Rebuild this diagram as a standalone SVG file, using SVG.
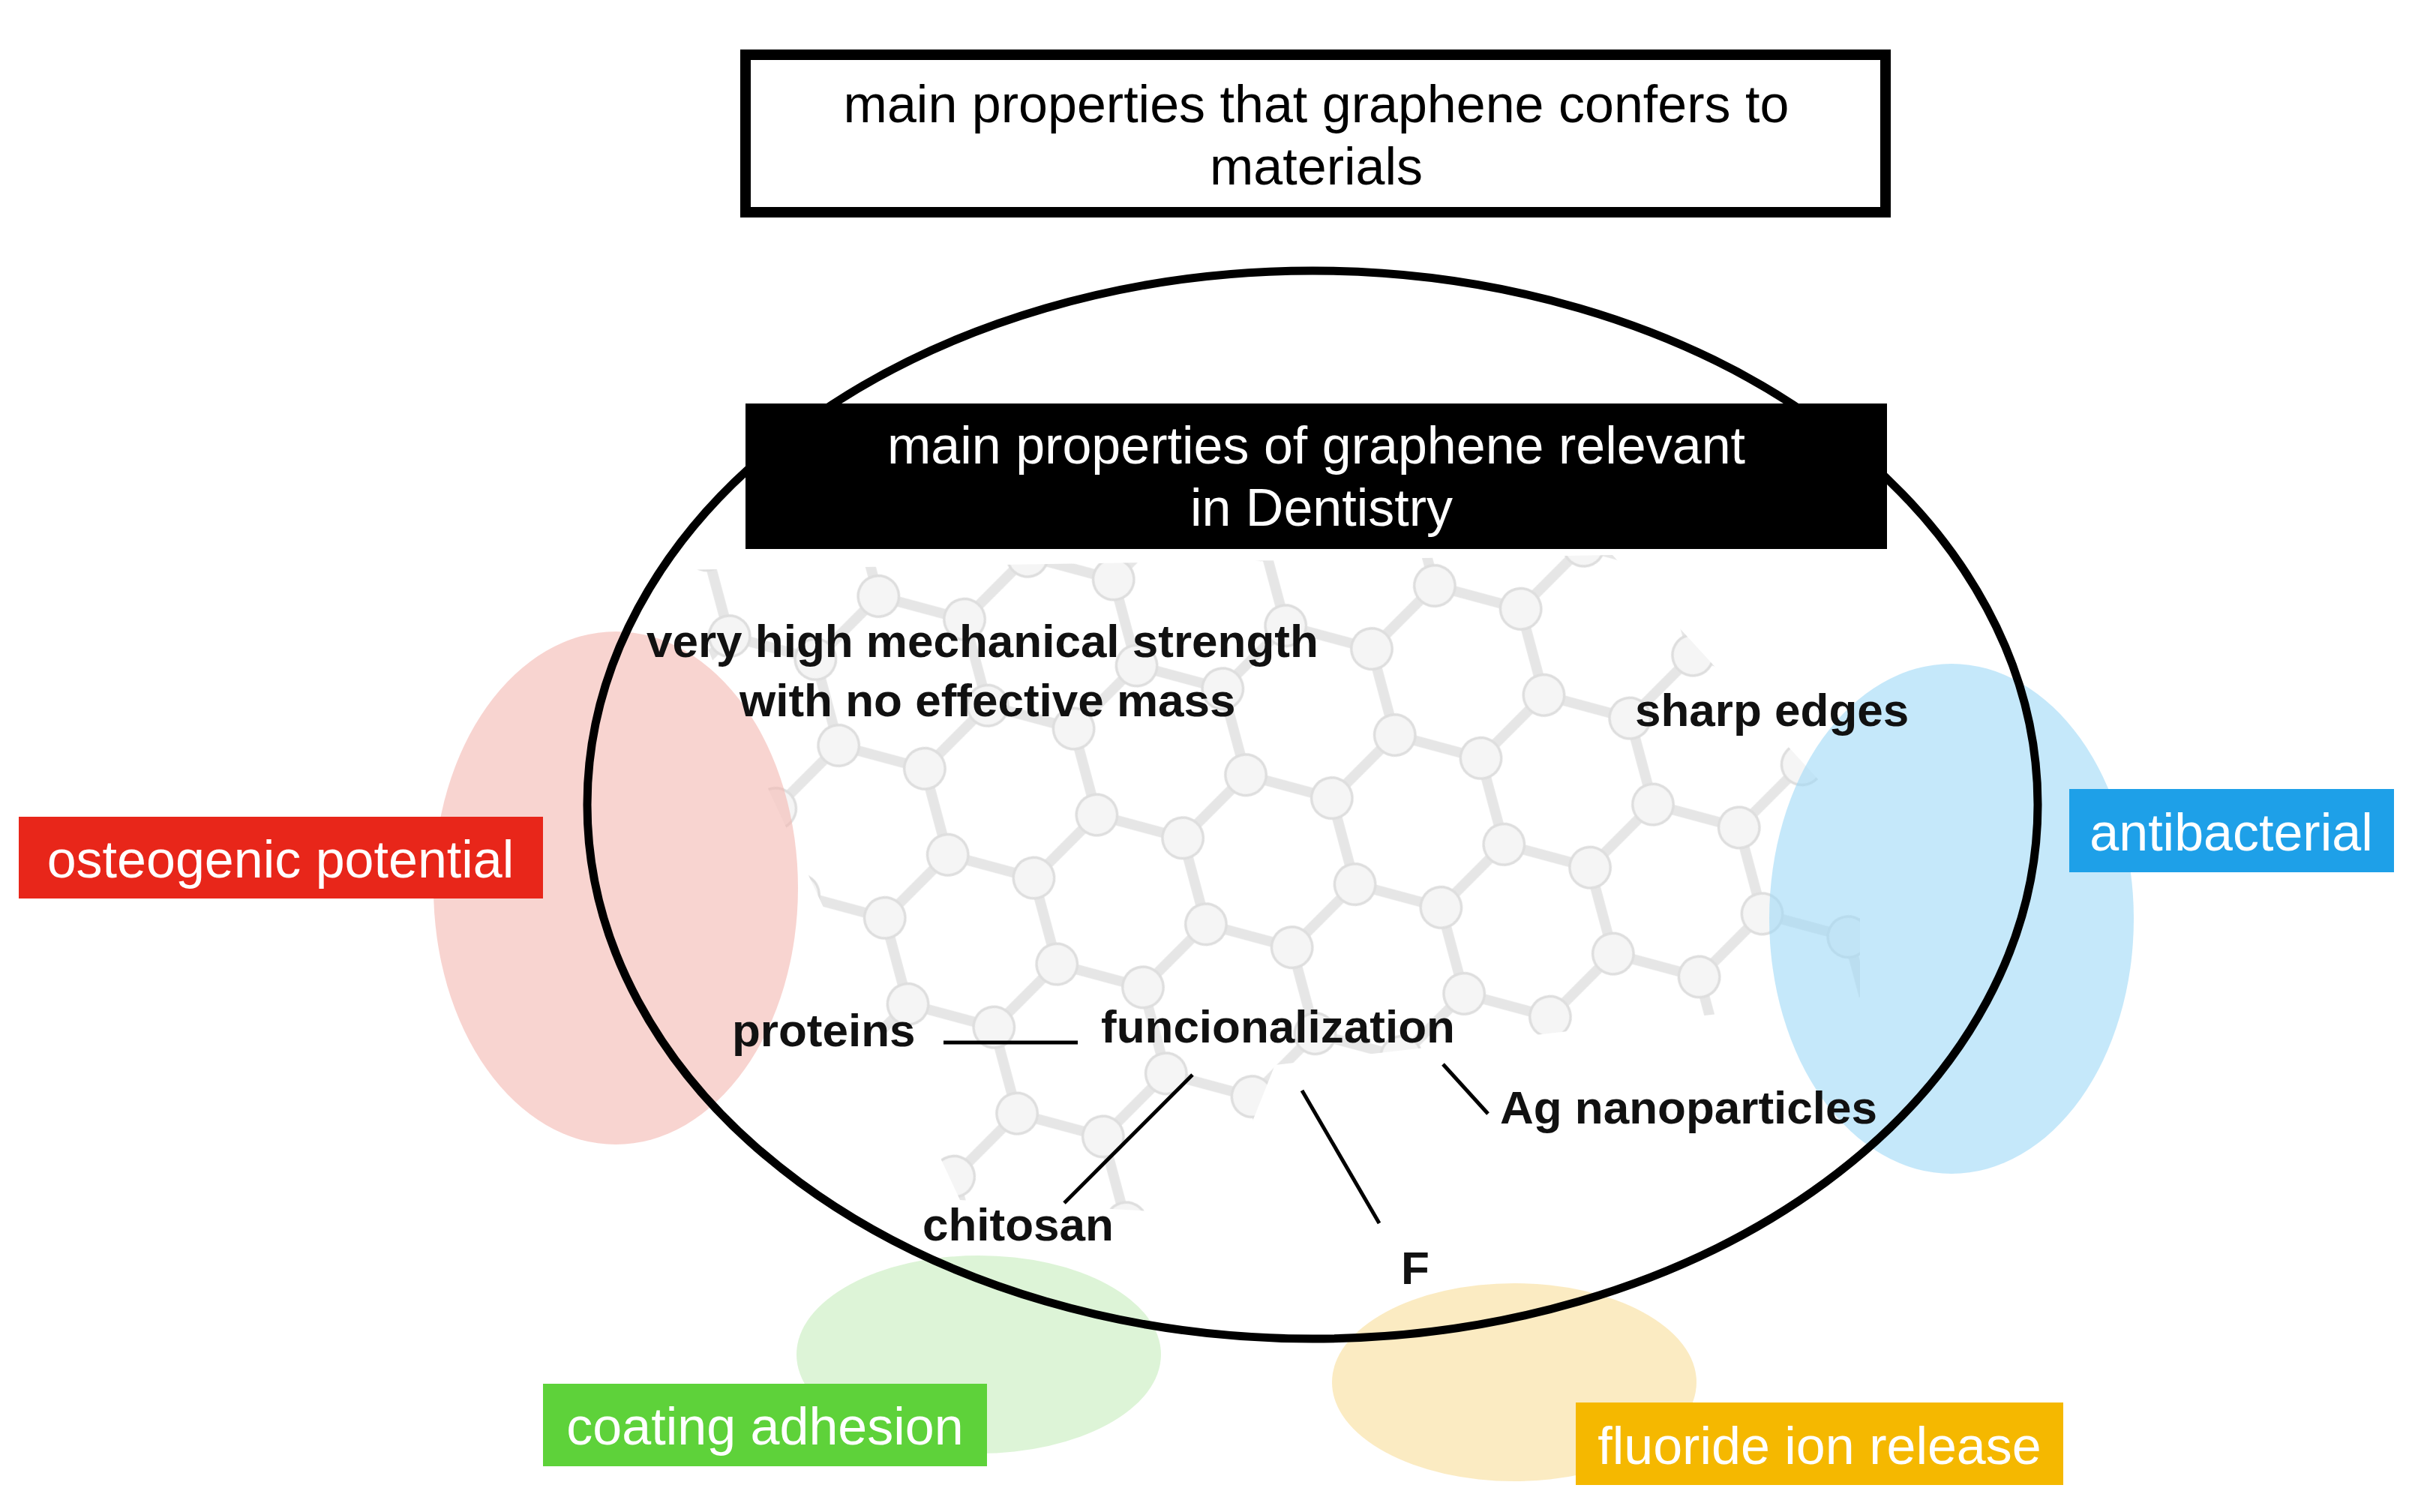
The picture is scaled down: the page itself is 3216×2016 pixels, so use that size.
<svg xmlns="http://www.w3.org/2000/svg" width="3216" height="2016" viewBox="0 0 3216 2016">
<style>
.t{font-family:"Liberation Sans",Arial,sans-serif;font-size:70px;text-anchor:middle}
.b{font-family:"Liberation Sans",Arial,sans-serif;font-size:62px;font-weight:bold;fill:#111}
.w{fill:#fff}
.ln{stroke:#000;stroke-width:5;fill:none}
</style>
<defs>
<pattern id="hex" width="121" height="210" patternUnits="userSpaceOnUse" patternTransform="rotate(-15) scale(1.7)">
<path d="M0 35L60.5 0L121 35M0 35V105L60.5 140L121 105V35M60.5 140V210" stroke="#e6e6e6" stroke-width="8" fill="none"/>
<g fill="#f5f5f5" stroke="#dedede" stroke-width="2">
<circle cx="60.5" cy="0" r="16"/><circle cx="121" cy="35" r="16"/><circle cx="0" cy="35" r="16"/>
<circle cx="121" cy="105" r="16"/><circle cx="0" cy="105" r="16"/><circle cx="60.5" cy="140" r="16"/><circle cx="60.5" cy="210" r="16"/>
</g>
</pattern>
<clipPath id="lc"><path d="M900 760 L2150 740 L2480 1100 L2480 1330 L1700 1420 L1620 1620 L1280 1600 L1000 1000Z"/></clipPath>
</defs>
<rect width="3216" height="2016" fill="#fff"/>
<g id="lattice" clip-path="url(#lc)"><rect x="800" y="700" width="1800" height="1000" fill="url(#hex)"/></g>
<g id="blob-osteo"><ellipse cx="821" cy="1184" rx="243" ry="342" fill="#f4b8b0" opacity="0.6"/></g>
<g id="blob-anti"><ellipse cx="2602" cy="1225" rx="243" ry="340" fill="#9ed8f6" opacity="0.6"/></g>
<g id="blob-coat"><ellipse cx="1305" cy="1806" rx="243" ry="132" fill="#c6ecbc" opacity="0.6"/></g>
<g id="blob-fluor"><ellipse cx="2019" cy="1843" rx="243" ry="132" fill="#f9dd9a" opacity="0.6"/></g>
<g id="main-ellipse"><ellipse cx="1750" cy="1073" rx="967" ry="712" fill="none" stroke="#000" stroke-width="11"/></g>
<g id="top-box"><rect x="994" y="73" width="1520" height="210" fill="#fff" stroke="#000" stroke-width="14"/>
<text class="t" x="1755" y="163">main properties that graphene confers to</text>
<text class="t" x="1755" y="246">materials</text></g>
<g id="dent-box"><rect x="994" y="538" width="1522" height="194" fill="#000"/>
<text class="t w" x="1755" y="618">main properties of graphene relevant</text>
<text class="t w" x="1762" y="701">in Dentistry</text></g>
<g id="osteo"><rect x="25" y="1089" width="699" height="109" fill="#e8261a"/><text class="t w" x="374" y="1170">osteogenic potential</text></g>
<g id="anti"><rect x="2759" y="1052" width="433" height="111" fill="#1ea0e8"/><text class="t w" x="2975" y="1134">antibacterial</text></g>
<g id="coat"><rect x="724" y="1845" width="592" height="110" fill="#5ed23a"/><text class="t w" x="1020" y="1926">coating adhesion</text></g>
<g id="fluor"><rect x="2101" y="1870" width="650" height="110" fill="#f5b800"/><text class="t w" x="2426" y="1952">fluoride ion release</text></g>
<g id="labels">
<text class="b" x="862" y="876">very high mechanical  strength</text>
<text class="b" x="986" y="955">with no effective mass</text>
<text class="b" x="2180" y="968">sharp edges</text>
<text class="b" x="976" y="1395">proteins</text>
<text class="b" x="1468" y="1390">funcionalization</text>
<text class="b" x="2000" y="1498">Ag nanoparticles</text>
<text class="b" x="1230" y="1654">chitosan</text>
<text class="b" x="1868" y="1712">F</text>
</g>
<g id="connectors">
<line class="ln" x1="1258" y1="1390" x2="1437" y2="1390"/>
<line class="ln" x1="1590" y1="1433" x2="1419" y2="1604"/>
<line class="ln" x1="1736" y1="1454" x2="1839" y2="1631"/>
<line class="ln" x1="1924" y1="1419" x2="1984" y2="1485"/>
</g>
</svg>
